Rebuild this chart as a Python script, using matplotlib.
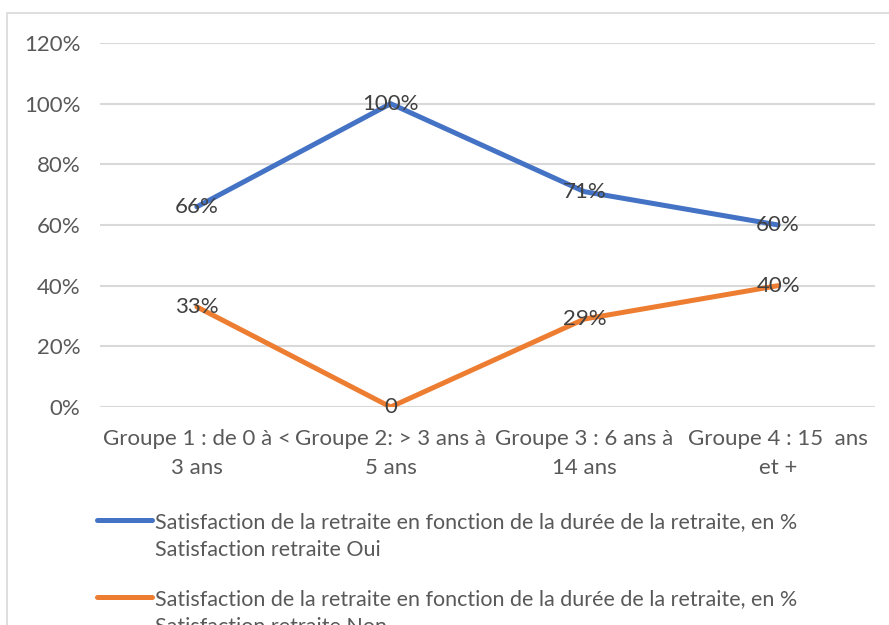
import matplotlib
matplotlib.use('Agg')
import matplotlib.pyplot as plt
from matplotlib.lines import Line2D
from matplotlib.patches import Rectangle
import numpy as np

plt.rcParams['font.family'] = ['Lato', 'DejaVu Sans']

categories = ['Groupe 1 : de 0 à <\n3 ans', 'Groupe 2: > 3 ans à\n5 ans',
              'Groupe 3 : 6 ans à\n14 ans', 'Groupe 4 : 15  ans\net +']
oui = [0.66, 1.00, 0.71, 0.60]
non = [0.33, 0.00, 0.29, 0.40]
oui_labels = ['66%', '100%', '71%', '60%']
non_labels = ['33%', '0', '29%', '40%']
legend_oui = 'Satisfaction de la retraite en fonction de la durée de la retraite, en %\nSatisfaction retraite Oui'
legend_non = 'Satisfaction de la retraite en fonction de la durée de la retraite, en %\nSatisfaction retraite Non'

W, H = 889, 625
fig = plt.figure(figsize=(W / 100, H / 100), dpi=100)

# chart border
fig.add_artist(Rectangle((7 / W, -0.1), 1.1, 1 - 13 / H + 0.1, transform=fig.transFigure,
                         fill=False, edgecolor='#d9d9d9', linewidth=1.2))

ax = fig.add_axes([100 / W, 1 - 407 / H, 775 / W, 364 / H])
x = np.arange(len(categories))
blue = '#4472C4'
orange = '#ED7D31'
ax.plot(x, oui, color=blue, linewidth=3.6, solid_capstyle='round', zorder=3)
ax.plot(x, non, color=orange, linewidth=3.6, solid_capstyle='round', zorder=3)
for xi, v, t in zip(x, oui, oui_labels):
    ax.text(xi, v, t, ha='center', va='center', fontsize=16, color='#404040', zorder=4)
for xi, v, t in zip(x, non, non_labels):
    ax.text(xi, v, t, ha='center', va='center', fontsize=16, color='#404040', zorder=4)

ax.set_xlim(-0.5, 3.5)
ax.set_ylim(0, 1.2)
ax.set_yticks([0, 0.2, 0.4, 0.6, 0.8, 1.0, 1.2])
ax.set_yticklabels([f'{int(round(v * 100))}%' for v in [0, 0.2, 0.4, 0.6, 0.8, 1.0, 1.2]])
ax.set_xticks(x)
ax.set_xticklabels(categories, linespacing=1.55)
ax.tick_params(axis='both', length=0, labelsize=16, labelcolor='#595959')
ax.tick_params(axis='y', pad=14)
ax.tick_params(axis='x', pad=16)
ax.grid(axis='y', color='#d9d9d9', linewidth=1.5)
ax.set_axisbelow(True)
for s in ax.spines.values():
    s.set_visible(False)

# legend
for y0, col, txt in [(520, blue, legend_oui), (597, orange, legend_non)]:
    fig.add_artist(Line2D([97 / W, 152 / W], [1 - y0 / H, 1 - y0 / H], transform=fig.transFigure,
                          color=col, linewidth=3.6, solid_capstyle='round'))
    fig.text(155 / W, 1 - (y0 - 8) / H, txt, ha='left', va='top', fontsize=15.5,
             color='#595959', linespacing=1.5)

fig.savefig('out.png', dpi=100)
